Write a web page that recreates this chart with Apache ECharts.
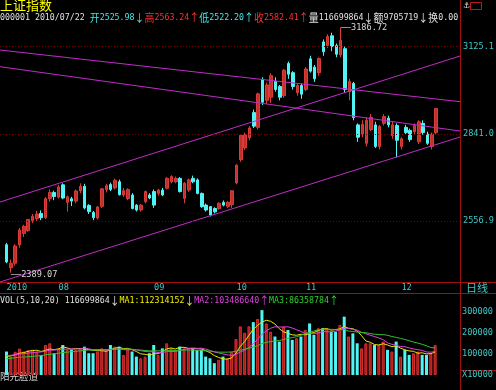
<!DOCTYPE html>
<html><head><meta charset="utf-8">
<script src="https://cdn.jsdelivr.net/npm/echarts@6/dist/echarts.min.js"></script>
<style>html,body{margin:0;padding:0;background:#000;overflow:hidden}#c{width:496px;height:390px}</style>
</head><body><div id="c"></div>
<script>
// ---------- data ----------
const dates = [
'2010-07-15','2010-07-16','2010-07-19','2010-07-20','2010-07-21','2010-07-22','2010-07-23','2010-07-26','2010-07-27','2010-07-28','2010-07-29','2010-07-30',
'2010-08-02','2010-08-03','2010-08-04','2010-08-05','2010-08-06','2010-08-09','2010-08-10','2010-08-11','2010-08-12','2010-08-13','2010-08-16','2010-08-17','2010-08-18','2010-08-19','2010-08-20','2010-08-23','2010-08-24','2010-08-25','2010-08-26','2010-08-27','2010-08-30','2010-08-31',
'2010-09-01','2010-09-02','2010-09-03','2010-09-06','2010-09-07','2010-09-08','2010-09-09','2010-09-10','2010-09-13','2010-09-14','2010-09-15','2010-09-16','2010-09-17','2010-09-20','2010-09-21','2010-09-27','2010-09-28','2010-09-29','2010-09-30',
'2010-10-08','2010-10-11','2010-10-12','2010-10-13','2010-10-14','2010-10-15','2010-10-18','2010-10-19','2010-10-20','2010-10-21','2010-10-22','2010-10-25','2010-10-26','2010-10-27','2010-10-28','2010-10-29',
'2010-11-01','2010-11-02','2010-11-03','2010-11-04','2010-11-05','2010-11-08','2010-11-09','2010-11-10','2010-11-11','2010-11-12','2010-11-15','2010-11-16','2010-11-17','2010-11-18','2010-11-19','2010-11-22','2010-11-23','2010-11-24','2010-11-25','2010-11-26','2010-11-29','2010-11-30',
'2010-12-01','2010-12-02','2010-12-03','2010-12-06','2010-12-07','2010-12-08','2010-12-09','2010-12-10','2010-12-13'];

const opens = [2480,2405,2420,2480,2517,2525.98,2558,2565,2582,2568,2630,2650,
2635,2675,2618,2630,2622,2655,2670,2608,2585,2567,2605,2660,2676,2665,2685,2642,2630,2642,2609,2593,2620,2642,
2653,2647,2658,2664,2685,2685,2696,2631,2658,2696,2691,2647,2609,2604,2598,2598,2618,2605,2610,
2681,2757,2795,2828,2910,2862,3018,2950,2960,3012,2995,2965,3070,3040,2975,2998,
2985,3085,3058,3040,3140,3128,3160,3128,3098,3118,2978,3005,2870,2840,2810,2855,2870,2800,2875,2892,2835,2868,
2800,2862,2852,2848,2815,2875,2840,2800,2845];
const closes = [2424,2420,2476,2528,2540,2562.41,2573,2580,2568,2630,2650,2637,
2668,2632,2636,2622,2655,2670,2600,2588,2568,2603,2662,2672,2660,2690,2643,2656,2660,2598,2593,2609,2653,2632,
2609,2658,2642,2696,2702,2696,2653,2680,2691,2685,2647,2604,2593,2577,2587,2615,2609,2618,2655.66,
2739,2836,2838,2860,2866,2971,2944,3000,3030,2985,2960,3048,3035,2995,2998,2970,
3052,3045,3020,3086,3108,3158,3125,3100,3145,2985,3012,2894,2830,2872,2885,2895,2800,2865,2897,2870,2870,2820,
2825,2845,2822,2868,2880,2845,2810,2840,2923];
const lows = [2420,2389.07,2412,2470,2505,2522.20,2550,2556,2560,2563,2620,2625,
2630,2628,2588,2606,2615,2648,2595,2580,2560,2562,2600,2650,2655,2660,2640,2635,2625,2595,2588,2588,2615,2628,
2600,2640,2638,2660,2680,2680,2650,2615,2652,2680,2644,2600,2588,2572,2582,2594,2605,2600,2600,
2677,2750,2788,2820,2860,2855,2935,2938,2942,2978,2950,2958,3020,2985,2965,2955,
2980,3040,3010,3030,3095,3120,3110,3090,3090,2975,2950,2885,2815,2830,2800,2850,2795,2790,2868,2862,2825,2764,
2790,2838,2815,2840,2808,2838,2805,2790,2840];
const highs = [2486,2432,2482,2535,2545,2563.24,2580,2590,2592,2635,2660,2656,
2675,2680,2640,2636,2660,2680,2678,2612,2590,2606,2665,2678,2682,2695,2692,2665,2664,2648,2612,2612,2656,2648,
2660,2662,2665,2700,2706,2702,2700,2684,2695,2705,2696,2650,2614,2606,2602,2618,2624,2622,2658,
2742,2840,2845,2866,2920,2975,3025,3008,3038,3025,3000,3052,3076,3045,3005,3005,
3058,3095,3065,3090,3148,3165,3170,3135,3186.72,3125,3020,3010,2875,2885,2895,2905,2880,2870,2905,2900,2880,2875,
2830,2870,2858,2875,2885,2885,2848,2845,2925];

// volume, in thousands
const volumes = [111,87,110,125,111,116.7,119,111,95,142,150,103,
126,142,119,119,119,126,134,103,103,111,126,119,142,134,134,95,126,111,87,79,87,103,
142,95,126,150,126,119,134,126,126,126,119,119,87,79,56,72,87,79,110,
170,230,200,230,250,265,307,244,205,182,158,229,213,166,174,182,
213,244,190,221,221,221,205,205,237,276,182,197,150,126,150,150,142,142,158,119,111,158,
87,119,95,103,111,95,95,103,142];
const volMA5 = [88,90,96,103,106,112.3,116,117,111,117,123,120,
123,133,128,122,125,125,123,120,117,115,115,112,120,126,131,125,126,120,111,100,98,93,
100,101,111,123,128,123,131,131,126,126,126,123,115,106,92,83,76,75,81,
104,135,158,188,216,235,250,259,254,241,219,204,197,190,188,193,
190,196,201,210,218,219,212,215,218,229,221,219,208,186,161,155,144,142,148,142,134,138,
127,119,114,112,103,105,100,101,109];
const volMA10 = [92,93,96,99,101,103.5,106,108,109,113,117,118,
120,122,122,123,123,124,128,124,119,120,120,118,120,122,123,120,119,120,119,115,111,110,
110,106,105,111,111,111,116,121,125,127,125,127,123,116,109,104,100,95,93,
98,109,117,131,148,169,193,209,221,228,227,227,228,222,214,206,
197,197,195,199,205,205,204,208,214,223,220,216,212,202,195,188,182,175,167,152,145,141,
134,134,128,123,120,116,109,108,111];
const volMA20 = [76,79,82,84,85,86.4,88,90,92,95,98,100,
103,106,108,110,112,114,116,118.5,118,119,120,120,121,122,123,122,124,122,119,118,116,114,
115,114,114,115,115,116,117,118,118,118,117,117,114,113,110,108,108,108,109,
112,117,122,127,132,139,149,154,158,161,163,168,173,177,181,188,
195,203,208,214,216,216,216,215,214,215,208,206,203,201,200,196,193,191,191,188,182,178,
173,168,162,156,151,145,138,130,128];

const priceTicks = [2556.9, 2841.0, 3125.1];
// trend lines: [dateIndex, price] endpoints
const trendStart = [[-1.5, 3113.7], [-1.5, 3059.4], [-1.5, 2619.1], [-1.5, 2358.8]];
const trendEnd   = [[104.5, 2945.5], [104.5, 2850.1], [104.5, 3094.2], [104.5, 2830.6]];

const headerName = '上证指数';
const headerParts = [['000001 2010/07/22 ', 'w'], ['开2525.98↓', 'c'], ['高2563.24↑', 'r'], ['低2522.20↑', 'c'], ['收2582.41↑', 'r'], ['量116699864↓额9705719↓换0.00', 'w']];
const volTitleParts = [['VOL(5,10,20) 116699864↓', 'w'], ['MA1:112314152↓', 'y'], ['MA2:103486640↑', 'm'], ['MA3:86358784↑', 'g']];

// ---------- chart ----------
const MONO = "'DejaVu Sans Mono','Noto Sans CJK SC',monospace";
const CJK = "'Noto Sans CJK SC'";
const RED = '#e03a3a', CYAN = '#50f4f4', FRAME = '#a01010', LABEL = '#40c8c8';
const TXT = {w: '#e0e0e0', c: '#40e8e8', r: '#ff3030', y: '#f0f000', m: '#e040e0', g: '#30d030'};
const padBefore = 1, padAfter = 5;
const cats = [];
for (let i = 0; i < padBefore; i++) cats.push('pb' + i);
dates.forEach(d => cats.push(d));
for (let i = 0; i < padAfter; i++) cats.push('pa' + i);
const monthStart = new Set();
dates.forEach((d, i) => { if (i === 0 || d.slice(5, 7) !== dates[i - 1].slice(5, 7)) monthStart.add(d); });
const up = dates.map((d, i) => closes[i] >= opens[i]);
const lastClose = closes[closes.length - 1];

// rich text: ascii runs narrow, CJK/arrows full width
function richOf(parts) {
  let s = '';
  parts.forEach(([t, c]) => {
    let run = '', wide = null;
    const flush = () => { if (run) s += '{' + c + (wide ? 'W' : 'A') + '|' + run + '}'; run = ''; };
    for (const ch of t) {
      const w = ch.charCodeAt(0) > 127;
      if (wide !== null && w !== wide) flush();
      wide = w; run += ch;
    }
    flush();
  });
  return s;
}
const rich = {};
Object.keys(TXT).forEach(k => {
  rich[k + 'A'] = {fill: TXT[k], font: "9px 'DejaVu Sans Mono'", verticalAlign: 'middle'};
  rich[k + 'W'] = {fill: TXT[k], font: '10.8px ' + CJK, verticalAlign: 'middle'};
});

const chart = echarts.init(document.getElementById('c'), null, {renderer: 'canvas'});
chart.setOption({
  backgroundColor: '#000',
  animation: false,
  grid: [
    {left: 0, right: 36, top: 12, bottom: 108},
    {left: 0, right: 36, top: 304, bottom: 15}
  ],
  xAxis: [
    {type: 'category', gridIndex: 0, data: cats, boundaryGap: true,
      axisLine: {show: false}, axisTick: {show: false}, splitLine: {show: false},
      axisLabel: {show: true, margin: 1, color: LABEL, fontFamily: MONO, fontSize: 8.6, align: 'left',
        interval: (idx, v) => monthStart.has(v),
        formatter: v => v === dates[0] ? v.slice(0, 4) : v.slice(5, 7)}},
    {type: 'value', gridIndex: 0, min: -1.5, max: 104.5, show: false},
    {type: 'category', gridIndex: 1, data: cats, boundaryGap: true, show: false}
  ],
  yAxis: [
    {type: 'value', gridIndex: 0, min: 2358.8, max: 3237.4, show: false, splitLine: {show: false}},
    {type: 'value', gridIndex: 1, min: 0, max: 335.8, interval: 100, position: 'right',
      axisLine: {show: false}, axisTick: {show: false},
      splitLine: {show: false},
      axisLabel: {margin: 3, color: LABEL, fontFamily: MONO, fontSize: 8.6, showMaxLabel: false,
        formatter: v => v === 0 ? 'X10000' : String(v * 1000)}}
  ],
  series: [
    {type: 'candlestick', xAxisIndex: 0, yAxisIndex: 0, barWidth: 3,
      encode: {x: 0, y: [1, 2, 3, 4]},
      data: dates.map((d, i) => [d, opens[i], closes[i], lows[i], highs[i]]),
      itemStyle: {color: '#c0302c', color0: CYAN, borderColor: '#dc3c38', borderColor0: CYAN, borderWidth: 1},
      markLine: {symbol: 'none', silent: true, animation: false,
        data: priceTicks.map(v => ({yAxis: v, lineStyle: {color: '#780000', type: [1, 2], width: 1},
            label: {show: true, position: 'end', distance: 3, color: LABEL, fontFamily: MONO, fontSize: 8.6,
              formatter: p => p.value.toFixed(1)}}))
          .concat([{yAxis: lastClose, lineStyle: {opacity: 0},
            label: {show: true, position: 'end', distance: 3, color: '#e00000', backgroundColor: '#f4f4f4',
              padding: [1, 1, 0, 2], fontFamily: MONO, fontSize: 8.6, formatter: p => p.value.toFixed(1)}}])},
      markPoint: {symbol: 'circle', symbolSize: 0, silent: true, animation: false,
        data: [
          {type: 'max', valueDim: 'highest', name: 'hi',
            label: {show: true, position: 'right', distance: 0, offset: [0, 0], color: '#d8d8d8', fontFamily: MONO, fontSize: 8.6,
              formatter: p => '\u2014\u2014' + p.value.toFixed(2)}},
          {type: 'min', valueDim: 'lowest', name: 'lo',
            label: {show: true, position: 'right', distance: 0, offset: [0, 2], color: '#d8d8d8', fontFamily: MONO, fontSize: 8.6,
              formatter: p => '\u2014\u2014' + p.value.toFixed(2)}}
        ]}
    },
    ...trendStart.map((s, k) => ({type: 'line', xAxisIndex: 1, yAxisIndex: 0, data: [s, trendEnd[k]],
      symbol: 'none', silent: true, lineStyle: {color: '#c02cc8', width: 1}})),
    {type: 'bar', xAxisIndex: 2, yAxisIndex: 1, barWidth: 3,
      encode: {x: 0, y: 1},
      data: dates.map((d, i) => ({value: [d, volumes[i]],
        itemStyle: up[i] ? {color: '#a81818', borderColor: '#d83030', borderWidth: 1} : {color: CYAN}}))},
    {type: 'line', xAxisIndex: 2, yAxisIndex: 1, data: dates.map((d, i) => [d, volMA5[i]]), symbol: 'none', lineStyle: {color: '#e8e800', width: 1}},
    {type: 'line', xAxisIndex: 2, yAxisIndex: 1, data: dates.map((d, i) => [d, volMA10[i]]), symbol: 'none', lineStyle: {color: '#e040e0', width: 1}},
    {type: 'line', xAxisIndex: 2, yAxisIndex: 1, data: dates.map((d, i) => [d, volMA20[i]]), symbol: 'none', lineStyle: {color: '#30c030', width: 1}}
  ],
  graphic: [
    {type: 'line', shape: {x1: 460.5, y1: 0, x2: 460.5, y2: 390}, style: {stroke: FRAME, lineWidth: 1}},
    {type: 'line', shape: {x1: 0, y1: 282.5, x2: 496, y2: 282.5}, style: {stroke: FRAME, lineWidth: 1}},
    {type: 'line', shape: {x1: 0, y1: 293.5, x2: 496, y2: 293.5}, style: {stroke: FRAME, lineWidth: 1}},
    {type: 'line', shape: {x1: 460, y1: 370.5, x2: 496, y2: 370.5}, style: {stroke: FRAME, lineWidth: 1}},
    {type: 'rect', shape: {x: 470.5, y: 2.5, width: 11, height: 7}, style: {stroke: '#c01818', fill: null, lineWidth: 1}},
    {type: 'text', x: 463, y: 6, style: {text: '⚓', fill: '#e8e8e8', font: "8px 'DejaVu Sans'", verticalAlign: 'middle'}},
    {type: 'text', x: 0, y: 5.5, style: {text: headerName, fill: '#ffff00', font: '13px ' + CJK, verticalAlign: 'middle'}},
    {type: 'text', x: 0, y: 17.5, scaleX: 0.92, style: {text: richOf(headerParts), verticalAlign: 'middle', rich: rich}},
    {type: 'text', x: 0, y: 300.5, scaleX: 0.92, style: {text: richOf(volTitleParts), verticalAlign: 'middle', rich: rich}},
    {type: 'text', x: 466, y: 288, style: {text: '日线', fill: LABEL, font: '11px ' + CJK, verticalAlign: 'middle'}},
    {type: 'text', x: 0, y: 376.5, style: {text: '阳光脸道', fill: '#d0d0d0', font: '9.5px ' + CJK, verticalAlign: 'middle'}}
  ]
});
</script></body></html>
